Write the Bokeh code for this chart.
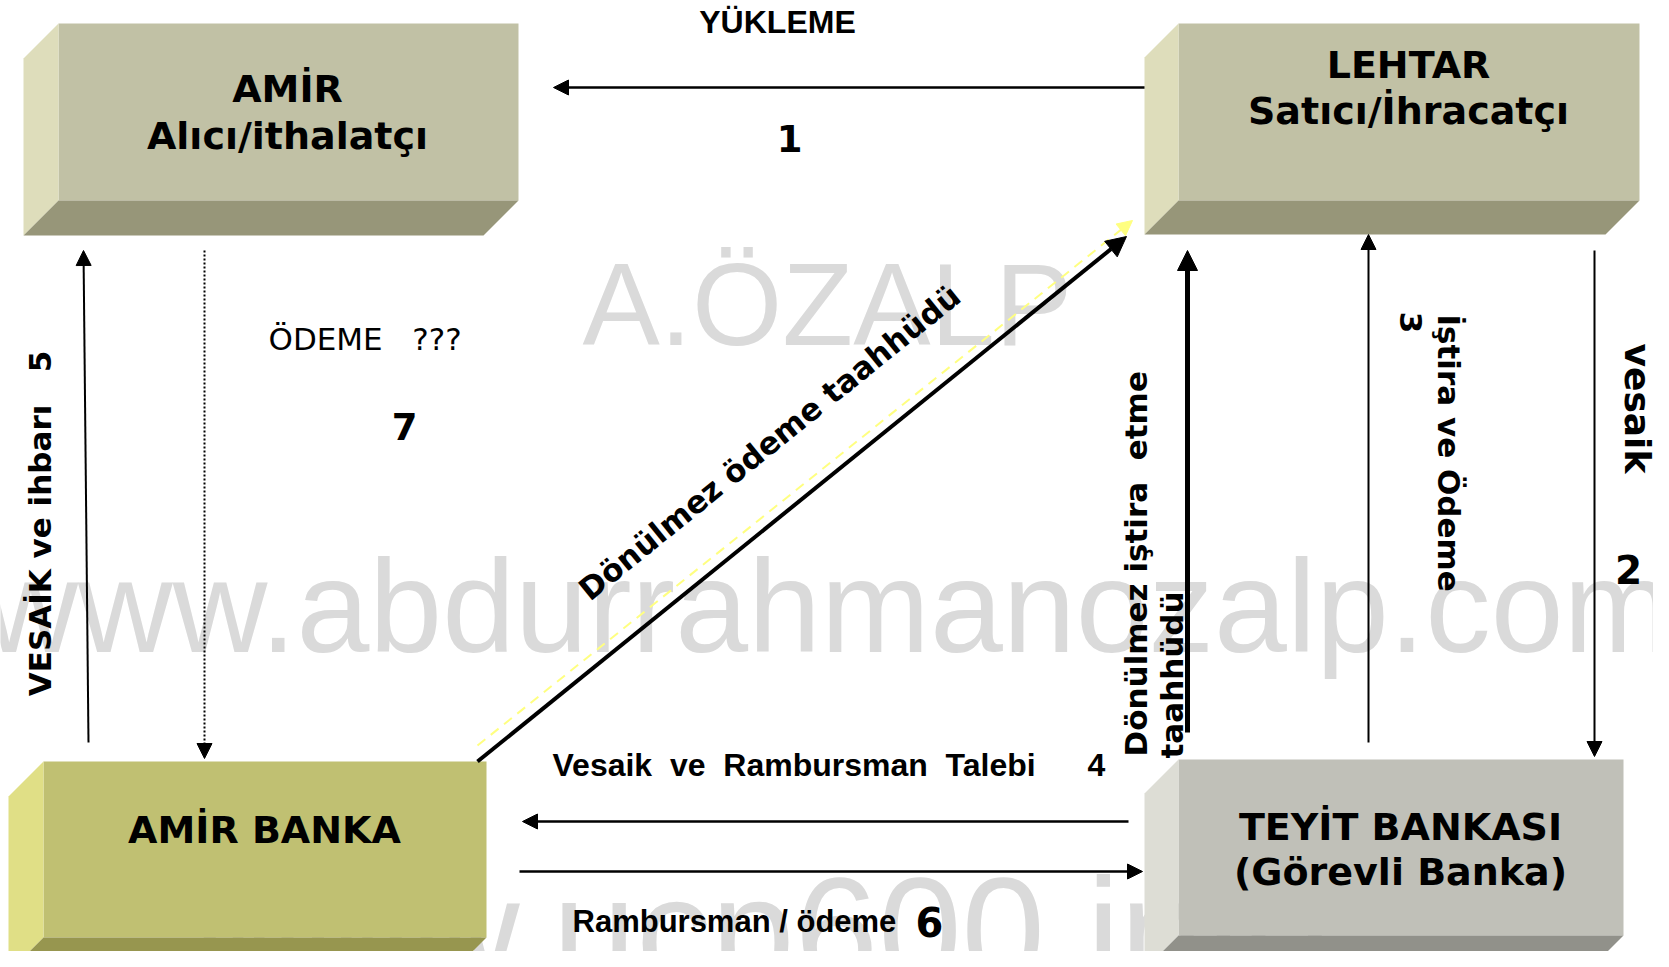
from bokeh.plotting import figure
from bokeh.models import Range1d, Arrow, NormalHead
from bokeh.core.properties import value
from bokeh.embed import file_html
from bokeh.resources import INLINE
import math

NB = "\u00a0"

# ---------------- data ----------------
# boxes: side-face left x, front-face left x, front right x, top y, front-face bottom y (pixel space)
BOX_SIDE_X = [23, 1144, 8, 1144]
BOX_FRONT_X0 = [58, 1178, 43, 1178]
BOX_FRONT_X1 = [518, 1639, 486, 1623]
BOX_TOP = [23, 23, 761, 759]
BOX_FRONT_BOTTOM = [200, 200, 937, 935]
BOX_FRONT_COL = ["#c1c1a5", "#c1c1a5", "#c0c072", "#c0c0b8"]
BOX_SIDE_COL = ["#deddbb", "#deddbb", "#e0df86", "#ddddd5"]
BOX_BOTTOM_COL = ["#979679", "#979679", "#97964f", "#91918a"]

BOX_TEXT = ["AMİR", "Alıcı/ithalatçı", "LEHTAR", "Satıcı/İhracatçı",
            "AMİR BANKA", "TEYİT BANKASI", "(Görevli Banka)"]
BOX_TEXT_X = [287, 287, 1408, 1408, 264, 1400, 1400]
BOX_TEXT_Y = [88, 135, 64, 110, 829, 826, 871]

# arrows: start x, start y, end x, end y, width, dash, colour
ARROW_X0 = [1144, 88, 204, 477, 477, 1187, 1368, 1594, 1128, 519]
ARROW_Y0 = [87, 742, 250, 745, 761, 732, 742, 250, 821, 871]
ARROW_X1 = [553, 83, 204, 1132, 1126, 1187, 1368, 1594, 522, 1142]
ARROW_Y1 = [87, 250, 758, 220, 236, 250, 234, 756, 821, 871]
ARROW_W = [2.5, 2, 2, 2, 4, 5, 2, 2, 2.5, 2.5]
ARROW_DASH = ["solid", "solid", "2 2", "10 7", "solid", "solid", "solid", "solid", "solid", "solid"]
ARROW_COL = ["black", "black", "black", "#ffff80", "black", "black", "black", "black", "black", "black"]

# free labels
LBL_TEXT = ["YÜKLEME", "1", "ÖDEME" + NB * 3 + "???", "7",
            "Vesaik" + NB * 2 + "ve" + NB * 2 + "Rambursman" + NB * 2 + "Talebi", "4",
            "Rambursman / ödeme", "6", "2"]
LBL_X = [777, 789, 268, 404, 552, 1096, 572, 929, 1628]
LBL_Y = [21, 138, 338, 426, 764, 764, 921, 921, 569]
LBL_FONT = ["Liberation Sans", "DejaVu Sans", "DejaVu Sans", "DejaVu Sans",
            "Liberation Sans", "Liberation Sans", "Liberation Sans",
            "DejaVu Sans", "DejaVu Sans"]
LBL_SIZE = [32, 37, 31, 37, 32, 32, 31, 40, 39]
LBL_STYLE = ["bold", "bold", "normal", "bold", "bold", "bold", "bold", "bold", "bold"]
LBL_ALIGN = ["center", "center", "left", "center", "left", "center", "left", "center", "center"]

# rotated labels
ROT_TEXT = ["VESAİK ve ihbarı" + NB * 3 + "5", "Dönülmez ödeme taahhüdü",
            "Dönülmez iştira" + NB * 2 + "etme", "taahhüdü", "İştira ve Ödeme", "3", "vesaik"]
ROT_X = [39, 769, 1135, 1171, 1448, 1410, 1637]
ROT_Y = [523, 442, 756, 758, 314, 322, 343]
ROT_DEG = [90, 39, 90, 90, -90, -90, -90]
ROT_ALIGN = ["center", "center", "left", "left", "left", "center", "left"]
ROT_SIZE = [31, 31, 31, 31, 31, 31, 36]

# watermarks
WM_TEXT = ["A.ÖZALP", "www.abdurrahmanozalp.com", "www.ucp600.info"]
WM_X = [582, -17, 194]
WM_Y = [304, 606, 930]
WM_SIZE = [116, 131, 150]

# ---------------- figure ----------------
p = figure(width=1653, height=951, x_range=Range1d(0, 1653), y_range=Range1d(951, 0),
           output_backend="svg", toolbar_location=None, x_axis_location=None,
           y_axis_location=None, min_border=0)
p.grid.visible = False
p.outline_line_color = None
p.background_fill_color = "white"
p.border_fill_color = "white"

# watermarks
for t, x, y, s in zip(WM_TEXT, WM_X, WM_Y, WM_SIZE):
    p.text(x=[x], y=[y], text=[t], text_font=value("Liberation Sans"),
           text_font_size=f"{s}px", text_color="#dadada", text_align="left",
           text_baseline="alphabetic")

# boxes
for xs, xf, xr, top, fb, cf, cs, cb in zip(BOX_SIDE_X, BOX_FRONT_X0, BOX_FRONT_X1, BOX_TOP,
                                           BOX_FRONT_BOTTOM, BOX_FRONT_COL, BOX_SIDE_COL,
                                           BOX_BOTTOM_COL):
    d = xf - xs
    p.patch([xf, xr, xr, xf], [top, top, fb, fb], fill_color=cf, line_color=None)
    p.patch([xs, xf, xf, xs], [top + d, top, fb, fb + d], fill_color=cs, line_color=None)
    p.patch([xf, xr, xr - d, xs], [fb, fb, fb + d, fb + d], fill_color=cb, line_color=None)

for t, x, y in zip(BOX_TEXT, BOX_TEXT_X, BOX_TEXT_Y):
    p.text(x=[x], y=[y], text=[t], text_font=value("DejaVu Sans"), text_font_style="bold",
           text_font_size="38px", text_color="black", text_align="center",
           text_baseline="middle")

# arrows
for x0, y0, x1, y1, w, dsh, col in zip(ARROW_X0, ARROW_Y0, ARROW_X1, ARROW_Y1, ARROW_W,
                                      ARROW_DASH, ARROW_COL):
    head = NormalHead(size=15 if w < 4 else 20, fill_color=col, line_color=col, line_width=1)
    p.add_layout(Arrow(end=head, x_start=x0, y_start=y0, x_end=x1, y_end=y1,
                       line_width=w, line_color=col, line_dash=dsh))

# labels
for t, x, y, f, s, st, al in zip(LBL_TEXT, LBL_X, LBL_Y, LBL_FONT, LBL_SIZE, LBL_STYLE, LBL_ALIGN):
    p.text(x=[x], y=[y], text=[t], text_font=value(f), text_font_style=st,
           text_font_size=f"{s}px", text_color="black", text_align=al,
           text_baseline="middle")

for t, x, y, a, al, s in zip(ROT_TEXT, ROT_X, ROT_Y, ROT_DEG, ROT_ALIGN, ROT_SIZE):
    p.text(x=[x], y=[y], text=[t], angle=math.radians(a), text_font=value("DejaVu Sans"),
           text_font_style="bold", text_font_size=f"{s}px", text_color="black",
           text_align=al, text_baseline="middle")

open("out.html", "w").write(file_html(p, INLINE))
